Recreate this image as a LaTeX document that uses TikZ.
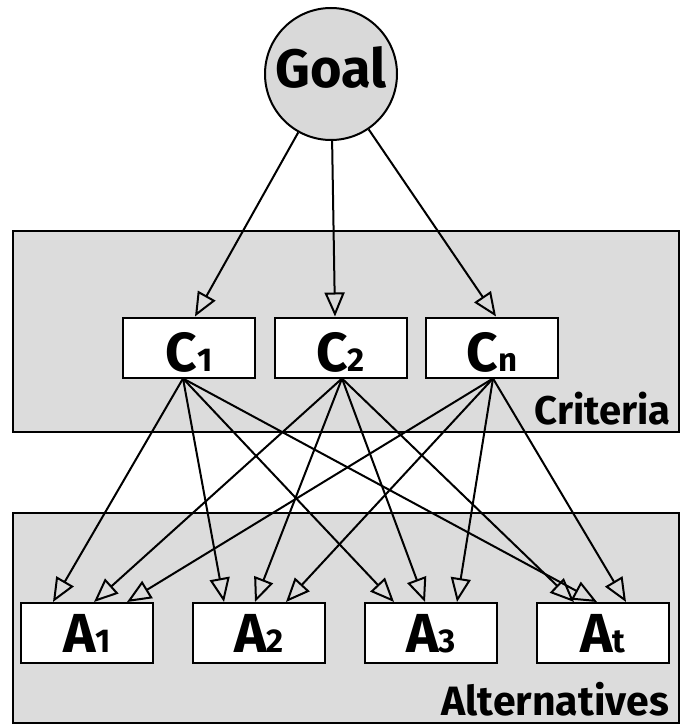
\documentclass[tikz,border=0pt]{standalone}
\usepackage{fontspec}
\setmainfont{Fira Sans}
\usetikzlibrary{arrows.meta}
\definecolor{panel}{HTML}{DCDCDC}
\definecolor{goalfill}{HTML}{D9D9D9}
\newcommand\itemlbl[2]{{\fontsize{55}{55}\selectfont #1}{\fontsize{33}{33}\selectfont #2}}
\begin{document}
\begin{tikzpicture}[x=1pt,y=-1pt,
  panelbox/.style={draw=black, line width=2pt, fill=panel, inner sep=0pt, anchor=north west},
  itembox/.style={draw=black, line width=2pt, fill=white, minimum width=132pt, minimum height=60pt,
    inner sep=0pt, text depth=0pt, font=\bfseries},
  panellbl/.style={anchor=base east, inner sep=0pt, text depth=0pt, font=\bfseries\fontsize{40}{40}\selectfont},
  link/.style={line width=2pt, -{Triangle[open, length=24pt, width=20pt, line width=2pt]}}]
\useasboundingbox (0,0) rectangle (684,725);
% panels
\node[panelbox, minimum width=666pt, minimum height=201pt] (critpanel) at (12,230) {};
\node[panelbox, minimum width=666pt, minimum height=210pt] (altpanel) at (12,512) {};
\node[panellbl] (critlbl) at (671,424) {Criteria};
\node[panellbl, font=\bfseries\fontsize{41}{41}\selectfont] (altlbl) at (669,715) {Alternatives};
% goal
\node[circle, draw=black, line width=2pt, fill=goalfill, minimum size=132pt, inner sep=0pt,
  text height=28pt, text depth=0pt, font=\bfseries\fontsize{54}{54}\selectfont] (goal) at (331,74) {Goal};
% criteria
\node[itembox, text height=47pt] (c1) at (189,347.5) {\itemlbl{C}{1}};
\node[itembox, text height=47pt] (c2) at (340.5,347.5) {\itemlbl{C}{2}};
\node[itembox, text height=47pt] (cn) at (492,347.5) {\itemlbl{C}{n}};
% alternatives
\node[itembox, text height=38pt] (a1) at (87,633) {\itemlbl{A}{1}};
\node[itembox, text height=38pt] (a2) at (259,633) {\itemlbl{A}{2}};
\node[itembox, text height=38pt] (a3) at (431,633) {\itemlbl{A}{3}};
\node[itembox, text height=38pt] (at) at (603,633) {\itemlbl{A}{t}};
% goal links
\draw[link] (goal) -- ([xshift=6pt]c1.north);
\draw[link] (goal) -- ([xshift=-5.5pt]c2.north);
\draw[link] (goal) -- ([xshift=4pt]cn.north);
% criteria to alternatives
\coordinate (c1s) at ([xshift=-6pt]c1.south);
\coordinate (c2s) at ([xshift=1.5pt]c2.south);
\coordinate (cns) at ([xshift=1pt]cn.south);
\draw[link] (c1s) -- ([xshift=-34pt]a1.north);
\draw[link] (c2s) -- ([xshift=7pt]a1.north);
\draw[link] (cns) -- ([xshift=40pt]a1.north);
\draw[link] (c1s) -- ([xshift=-35pt]a2.north);
\draw[link] (c2s) -- ([xshift=-4pt]a2.north);
\draw[link] (cns) -- ([xshift=27pt]a2.north);
\draw[link] (c1s) -- ([xshift=-37pt]a3.north);
\draw[link] (c2s) -- ([xshift=-6pt]a3.north);
\draw[link] (cns) -- ([xshift=26pt]a3.north);
\draw[link] (c1s) -- ([xshift=-6pt]at.north);
\draw[link] (c2s) -- ([xshift=-29pt]at.north);
\draw[link] (cns) -- ([xshift=23pt]at.north);
\end{tikzpicture}
\end{document}
